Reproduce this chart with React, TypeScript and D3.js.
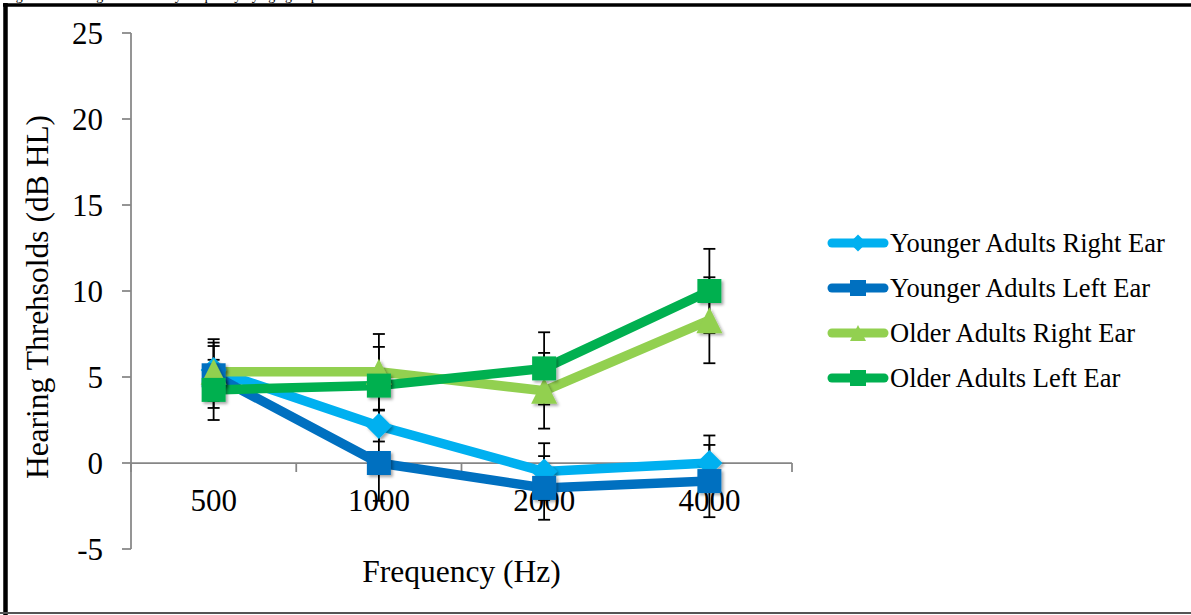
import React from "react";
import * as d3 from "d3";

const categories = ["500", "1000", "2000", "4000"];
const seriesNames = [
  "Younger Adults Right Ear",
  "Younger Adults Left Ear",
  "Older Adults Right Ear",
  "Older Adults Left Ear",
];
const youngerRight = [5.4, 2.15, -0.5, 0.0];
const youngerLeft = [5.1, 0.0, -1.45, -1.05];
const olderRight = [5.3, 5.3, 4.2, 8.3];
const olderLeft = [4.25, 4.5, 5.5, 10.0];
const youngerRightErr = [1.8, 0.9, 1.65, 1.6];
const youngerLeftErr = [1.9, 2.2, 1.85, 2.1];
const olderRightErr = [1.5, 2.2, 2.2, 2.5];
const olderLeftErr = [1.75, 2.25, 2.1, 2.45];
const yTicks = [-5, 0, 5, 10, 15, 20, 25];
const colors = ["#00B0F0", "#0070C0", "#92D050", "#00B050"];
const markerShapes = ["diamond", "square", "triangle", "square"];

const series = seriesNames.map((name, i) => ({
  name,
  values: [youngerRight, youngerLeft, olderRight, olderLeft][i],
  errors: [youngerRightErr, youngerLeftErr, olderRightErr, olderLeftErr][i],
  color: colors[i],
  shape: markerShapes[i],
}));

const FONT = "'Liberation Serif', 'Times New Roman', serif";

function markerPath(shape: string, s: number): string {
  const h = s / 2;
  if (shape === "diamond") return `M0,${-h}L${h},0L0,${h}L${-h},0Z`;
  if (shape === "triangle") return `M0,${-h}L${h},${h}L${-h},${h}Z`;
  return `M${-h},${-h}H${h}V${h}H${-h}Z`;
}

export default function App() {
  const W = 1191;
  const H = 615;
  const x = d3.scaleBand<string>().domain(categories).range([131, 792]).padding(0);
  const y = d3.scaleLinear().domain([-5, 25]).range([549, 33]);
  const cx = (c: string) => (x(c) as number) + x.bandwidth() / 2;
  const line = d3
    .line<number>()
    .x((_, i) => cx(categories[i]))
    .y((v) => y(v));
  const boundaries = [...categories.map((c) => x(c) as number), 792];
  const y0 = y(0);
  const axisColor = "#868686";

  return (
    <svg
      width={W}
      height={H}
      style={{ position: "absolute", left: 0, top: 0, background: "#fff" }}
      fontFamily={FONT}
    >
      <defs>
        <filter id="shadow" x="-50%" y="-50%" width="200%" height="200%">
          <feDropShadow dx="2" dy="2" stdDeviation="1.6" floodColor="#000" floodOpacity="0.35" />
        </filter>
      </defs>
      <rect x={0} y={0} width={W} height={H} fill="#fff" />
      {/* cropped caption at top (only descenders visible, as in the reference) */}
      <text x={4} y={0} fontSize={14} fill="#000">
        Figure 1. Hearing thresholds by frequency by age group
      </text>
      {/* frame */}
      <line x1={3} y1={5} x2={W} y2={5} stroke="#000" strokeWidth={3.5} />
      <line x1={5.5} y1={3} x2={5.5} y2={H} stroke="#000" strokeWidth={4.5} />
      <line x1={0} y1={613} x2={W} y2={613} stroke="#555" strokeWidth={2} />

      {/* y axis */}
      <line x1={131} y1={y(25)} x2={131} y2={y(-5)} stroke={axisColor} strokeWidth={1.75} />
      {yTicks.map((t) => (
        <g key={t}>
          <line x1={122} y1={y(t)} x2={131} y2={y(t)} stroke={axisColor} strokeWidth={1.75} />
          <text x={103} y={y(t) + 10.5} fontSize={31} textAnchor="end" fill="#000">
            {t}
          </text>
        </g>
      ))}
      {/* x axis */}
      <line x1={131} y1={y0} x2={792} y2={y0} stroke={axisColor} strokeWidth={1.75} />
      {boundaries.map((b, i) => (
        <line key={i} x1={b} y1={y0} x2={b} y2={y0 + 9} stroke={axisColor} strokeWidth={1.75} />
      ))}
      {categories.map((c) => (
        <text key={c} x={cx(c)} y={y0 + 48} fontSize={31} textAnchor="middle" fill="#000">
          {c}
        </text>
      ))}

      {/* axis titles */}
      <text x={461.5} y={582} fontSize={31.5} textAnchor="middle" fill="#000">
        Frequency (Hz)
      </text>
      <text
        transform={`translate(48,297) rotate(-90)`}
        fontSize={31.5}
        textAnchor="middle"
        fill="#000"
      >
        Hearing Threhsolds (dB HL)
      </text>

      {/* lines */}
      {series.map((s) => (
        <path
          key={s.name}
          d={line(s.values) as string}
          fill="none"
          stroke={s.color}
          strokeWidth={9.5}
          strokeLinejoin="round"
          strokeLinecap="round"
        />
      ))}

      {/* error bars */}
      {series.map((s) =>
        s.values.map((v, i) => {
          const px = cx(categories[i]);
          const top = y(v + s.errors[i]);
          const bot = y(v - s.errors[i]);
          return (
            <g key={s.name + i} stroke="#000" strokeWidth={1.8}>
              <line x1={px} y1={top} x2={px} y2={bot} />
              <line x1={px - 6} y1={top} x2={px + 6} y2={top} />
              <line x1={px - 6} y1={bot} x2={px + 6} y2={bot} />
            </g>
          );
        })
      )}

      {/* markers */}
      {series.map((s) =>
        s.values.map((v, i) => (
          <path
            key={s.name + "m" + i}
            d={markerPath(s.shape, s.shape === "square" ? 24 : 26)}
            transform={`translate(${cx(categories[i])},${y(v)})`}
            fill={s.color}
            filter="url(#shadow)"
          />
        ))
      )}

      {/* legend */}
      {series.map((s, i) => {
        const ly = 243 + i * 45;
        return (
          <g key={s.name + "leg"}>
            <line
              x1={832}
              y1={ly}
              x2={884}
              y2={ly}
              stroke={s.color}
              strokeWidth={9}
              strokeLinecap="round"
            />
            <path
              d={markerPath(s.shape, s.shape === "diamond" ? 17 : 16)}
              transform={`translate(858,${ly})`}
              fill={s.color}
            />
            <text x={890} y={ly + 8.5} fontSize={26.5} fill="#000">
              {s.name}
            </text>
          </g>
        );
      })}
    </svg>
  );
}
